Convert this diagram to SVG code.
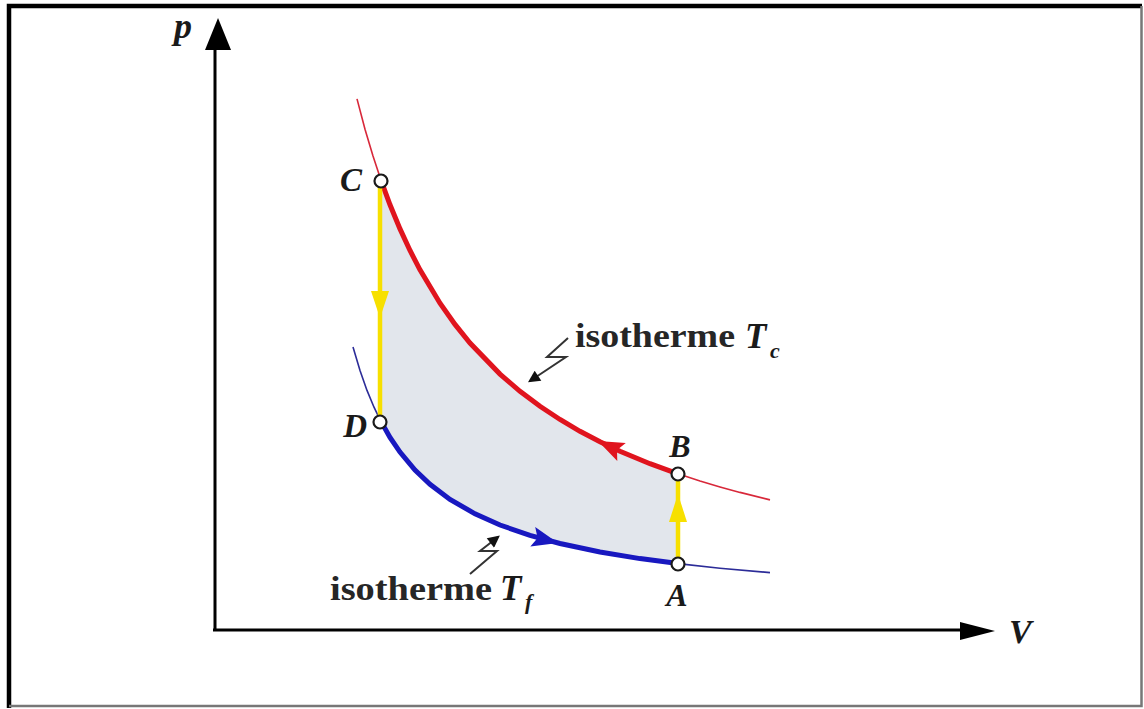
<svg xmlns="http://www.w3.org/2000/svg" width="1144" height="709" viewBox="0 0 1144 709">
<style>
.lbl{font-family:"Liberation Serif",serif;font-weight:bold;font-style:italic;fill:#1a1a1a}
.iso{font-family:"Liberation Serif",serif;font-weight:bold;fill:#262626}
.axis{stroke:#000;stroke-width:3;fill:none}
.redThin{stroke:#d8283a;stroke-width:1.6;fill:none}
.redThick{stroke:#e0141e;stroke-width:5;fill:none}
.blueThin{stroke:#2c2c98;stroke-width:1.6;fill:none}
.blueThick{stroke:#1818c0;stroke-width:5;fill:none}
.yel{stroke:#f7e000;stroke-width:4.5;fill:none}
.pt{fill:#fff;stroke:#1a1a1a;stroke-width:2.2}
.lead{stroke:#333;stroke-width:2;fill:none}
</style>
<defs>
<marker id="leadArrow" viewBox="0 0 10 10" refX="8" refY="5" markerWidth="7" markerHeight="6" orient="auto" markerUnits="strokeWidth">
<path d="M0,0 L10,5 L0,10 z" fill="#111"/>
</marker>
</defs>
<rect width="1144" height="709" fill="#fff"/>
<g id="frame">
<path d="M9,708 V6 H1142" stroke="#000" stroke-width="4.5" fill="none"/>
<path d="M1141.5,6 V706 H9" stroke="#777" stroke-width="2.5" fill="none"/>
</g>
<g id="axes">
<line class="axis" x1="215" y1="630" x2="215" y2="45"/>
<polygon points="218,18 205,50 231,50" fill="#000"/>
<line class="axis" x1="213" y1="630" x2="965" y2="630"/>
<polygon points="995,631 960,622 960,640" fill="#000"/>
<text class="lbl" x="174" y="38" font-size="36">p</text>
<text class="lbl" x="1009" y="643" font-size="34">V</text>
</g>
<g id="cycle-area">
<path d="M381,180.3 L390,204.8 L400,228.9 L410,250.5 L420,269.9 L440,303.2 L455,324.4 L470,343 L500,374.1 L520,391.3 L540,406.3 L560,419.5 L580,431.3 L600,441.8 L620,451.2 L650,463.7 L678,473.8 L678,563.6 L640,558.6 L600,552 L560,543.5 L530,535.4 L500,525 L475,513.8 L450,499.4 L430,484.3 L415,470 L400,452.1 L390,437.4 L380,419.6 Z" fill="#e2e6ec"/>
</g>
<g id="connectors">
<g id="isotherm-hot">
<path class="redThin" d="M357,98.9 L365,129.2 L373,156.1 L381,180.3"/>
<path class="redThick" d="M381,180.3 L390,204.8 L400,228.9 L410,250.5 L420,269.9 L440,303.2 L455,324.4 L470,343 L500,374.1 L520,391.3 L540,406.3 L560,419.5 L580,431.3 L600,441.8 L620,451.2 L650,463.7 L678,473.8"/>
<path class="redThin" d="M678,473.8 L700,481 L720,486.9 L740,492.4 L770,499.9"/>
<polygon points="0,0 26,-10 21,0 26,10" fill="#e0141e" transform="translate(598,441) rotate(25.2)"/>
</g>
<g id="isotherm-cold">
<path class="blueThin" d="M353,346.9 L360,370.6 L367,390.4 L374,407.2 L380,419.6"/>
<path class="blueThick" d="M380,419.6 L390,437.4 L400,452.1 L415,470 L430,484.3 L450,499.4 L475,513.8 L500,525 L530,535.4 L560,543.5 L600,552 L640,558.6 L678,563.6"/>
<path class="blueThin" d="M678,563.6 L720,568.2 L770,572.6"/>
<polygon points="0,0 -26,-10 -21,0 -26,10" fill="#1818c0" transform="translate(558,543) rotate(14)"/>
</g>
<g id="isochore-CD">
<line class="yel" x1="380" y1="183" x2="380" y2="420"/>
<polygon points="380,318 371,291 389,291" fill="#f7e000"/>
</g>
<g id="isochore-AB">
<line class="yel" x1="678" y1="476" x2="678" y2="562"/>
<polygon points="678,494 669,522 687,522" fill="#f7e000"/>
</g>
<path class="lead" d="M568,338 L547,357 L566,357 L530,381" marker-end="url(#leadArrow)"/>
<path class="lead" d="M470,574 L497,551 L480,551 L498,537" marker-end="url(#leadArrow)"/>
</g>
<g id="node-C">
<circle class="pt" cx="381" cy="181" r="6.5"/>
<text class="lbl" x="362" y="191" font-size="33" text-anchor="end">C</text>
</g>
<g id="node-D">
<circle class="pt" cx="380" cy="422" r="6.5"/>
<text class="lbl" x="367" y="437" font-size="33" text-anchor="end">D</text>
</g>
<g id="node-B">
<circle class="pt" cx="678" cy="474" r="6.5"/>
<text class="lbl" x="680" y="457" font-size="32" text-anchor="middle">B</text>
</g>
<g id="node-A">
<circle class="pt" cx="678" cy="564" r="6.5"/>
<text class="lbl" x="677" y="606" font-size="32" text-anchor="middle">A</text>
</g>
<g id="label-Tc">
<text class="iso" x="575" y="347" font-size="34" textLength="160" lengthAdjust="spacingAndGlyphs">isotherme</text>
<text class="lbl" x="745" y="348" font-size="35">T</text>
<text class="lbl" x="770" y="358" font-size="22" font-style="normal">c</text>
</g>
<g id="label-Tf">
<text class="iso" x="330" y="600" font-size="34" textLength="162" lengthAdjust="spacingAndGlyphs">isotherme</text>
<text class="lbl" x="500" y="600" font-size="35">T</text>
<text class="lbl" x="525" y="609" font-size="22">f</text>
</g>
</svg>
